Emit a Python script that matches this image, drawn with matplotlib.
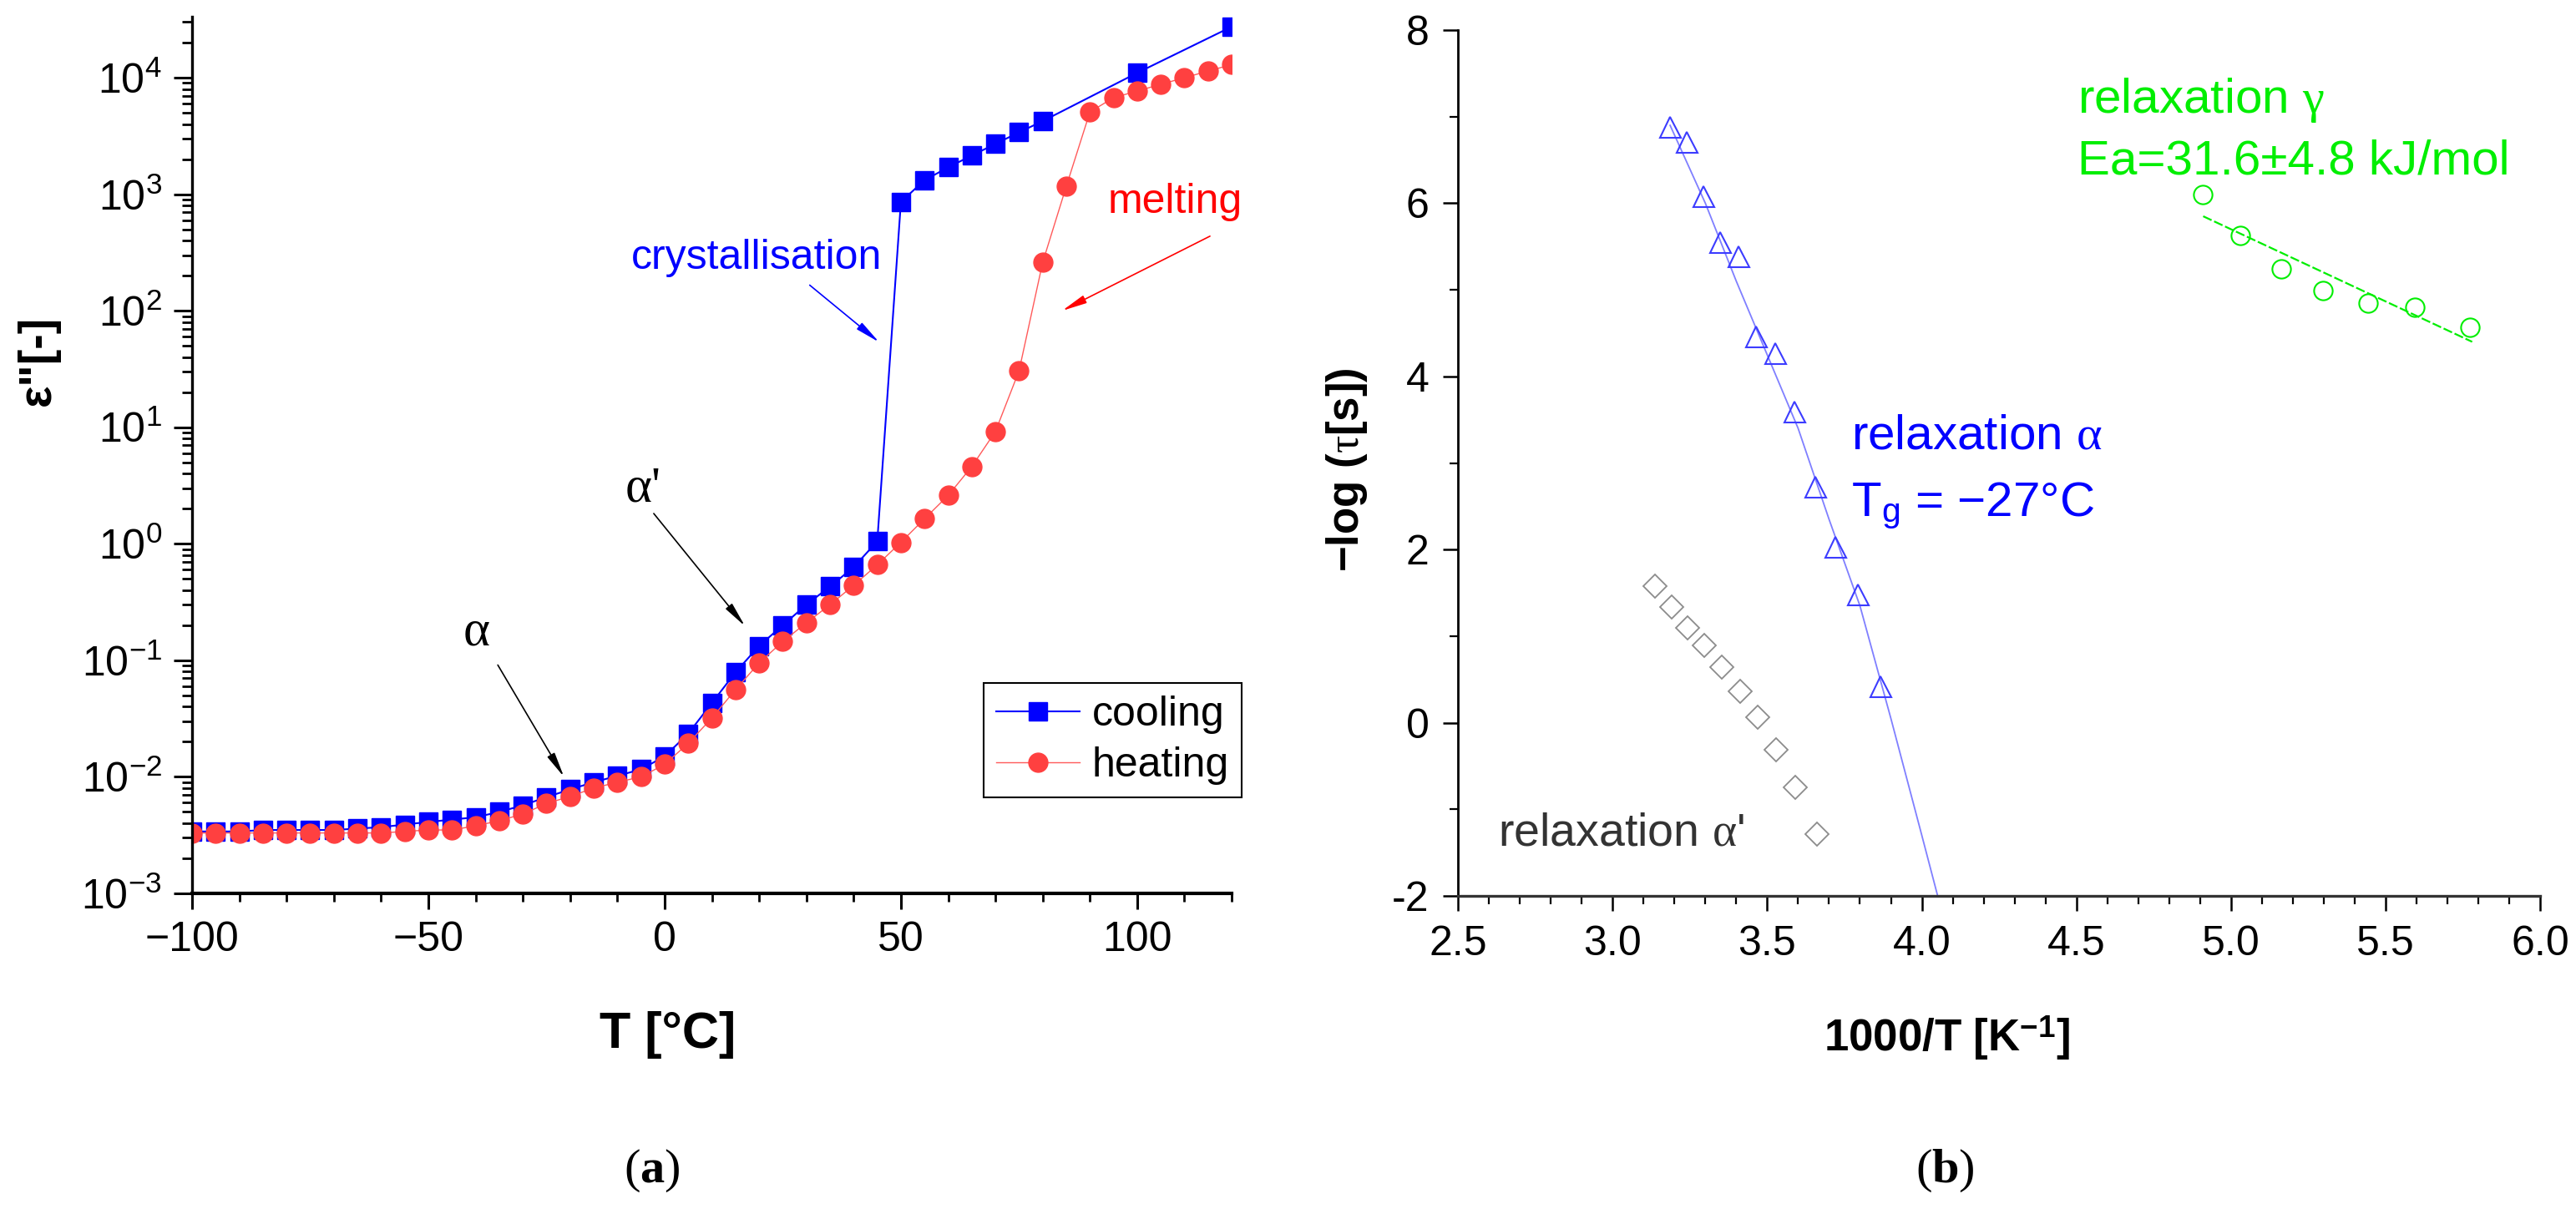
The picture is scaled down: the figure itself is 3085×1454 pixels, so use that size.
import matplotlib
matplotlib.use('Agg')
import matplotlib.pyplot as plt
from matplotlib.ticker import LogLocator, MultipleLocator, FuncFormatter, NullFormatter

plt.rcParams['font.family'] = 'Liberation Sans'
plt.rcParams['mathtext.fontset'] = 'custom'
plt.rcParams['mathtext.rm'] = 'Liberation Serif'
plt.rcParams['mathtext.it'] = 'Liberation Serif:italic'
plt.rcParams['mathtext.bf'] = 'Liberation Serif:bold'
plt.rcParams['mathtext.default'] = 'rm'

# (a) dielectric loss vs temperature
T_cool = [-100, -95, -90, -85, -80, -75, -70, -65, -60, -55, -50, -45, -40, -35, -30,
          -25, -20, -15, -10, -5, 0, 5, 10, 15, 20, 25, 30, 35, 40, 45,
          50, 55, 60, 65, 70, 75, 80, 100, 120]
eps_cool = [0.0034, 0.0034, 0.0034, 0.0035, 0.0035, 0.0035, 0.0035, 0.0036, 0.0037, 0.0039,
            0.0041, 0.0043, 0.0045, 0.0050, 0.0057, 0.0067, 0.0078, 0.0090, 0.0102, 0.0116,
            0.0150, 0.0235, 0.043, 0.079, 0.133, 0.20, 0.30, 0.43, 0.63, 1.05,
            860, 1320, 1700, 2150, 2700, 3400, 4240, 11000, 27400]

T_heat = [-100, -95, -90, -85, -80, -75, -70, -65, -60, -55, -50, -45, -40, -35, -30,
          -25, -20, -15, -10, -5, 0, 5, 10, 15, 20, 25, 30, 35, 40, 45,
          50, 55, 60, 65, 70, 75, 80, 85, 90, 95, 100, 105, 110, 115, 120]
eps_heat = [0.0033, 0.0033, 0.0033, 0.0033, 0.0033, 0.0033, 0.0033, 0.0033, 0.0033, 0.0034,
            0.0035, 0.0035, 0.0038, 0.0042, 0.0048, 0.0059, 0.0068, 0.0080, 0.0090, 0.0100,
            0.0128, 0.0194, 0.032, 0.056, 0.095, 0.145, 0.21, 0.30, 0.44, 0.66,
            1.03, 1.64, 2.6, 4.6, 9.2, 30.5, 260, 1170, 5080, 6740, 7680, 8780, 10000, 11400, 12950]

# (b) relaxation map
x_alpha = [3.186, 3.240, 3.294, 3.348, 3.407, 3.464, 3.526, 3.588, 3.656, 3.720, 3.794, 3.866]
y_alpha = [6.88, 6.71, 6.08, 5.55, 5.39, 4.46, 4.27, 3.59, 2.73, 2.03, 1.48, 0.42]
alpha_fit_x = [3.186, 3.30, 3.40, 3.50, 3.60, 3.70, 3.80, 3.90, 4.00, 4.055]
alpha_fit_y = [6.90, 6.00, 5.10, 4.25, 3.40, 2.35, 1.35, 0.05, -1.30, -2.05]

x_alpha_p = [3.138, 3.190, 3.243, 3.296, 3.354, 3.412, 3.470, 3.528, 3.591, 3.660]
y_alpha_p = [1.58, 1.335, 1.10, 0.89, 0.645, 0.36, 0.06, -0.31, -0.75, -1.29]

x_gamma = [4.909, 5.030, 5.163, 5.298, 5.444, 5.595, 5.774]
y_gamma = [6.10, 5.63, 5.24, 4.99, 4.85, 4.80, 4.57]
gamma_fit_x = [4.91, 5.78]
gamma_fit_y = [5.85, 4.40]

blue = '#0000ff'
red = '#ff4040'
green = '#00ee00'

fig = plt.figure(figsize=(30.85, 14.54), dpi=100)

# ---------------- panel (a) ----------------
ax1 = fig.add_axes([0.07455, 0.2641, 0.4036, 0.7221])
ax1.set_yscale('log')
ax1.plot(T_cool, eps_cool, '-s', color=blue, lw=1.5, ms=15.5, label='cooling')
ax1.plot(T_heat, eps_heat, '-o', color='#ff5a5a', mfc=red, mec=red, lw=1.0, ms=16.5, label='heating')
ax1.set_xlim(-100, 120)
ax1.set_ylim(1e-3, 10 ** 4.523)

for s in ['top', 'right']:
    ax1.spines[s].set_visible(False)
ax1.spines['left'].set_linewidth(2.4)
ax1.spines['bottom'].set_linewidth(3.0)

ax1.xaxis.set_major_locator(MultipleLocator(50))
ax1.xaxis.set_minor_locator(MultipleLocator(10))
ax1.yaxis.set_major_locator(LogLocator(base=10, numticks=20))
ax1.yaxis.set_minor_locator(LogLocator(base=10, subs=range(2, 10), numticks=20))
ax1.yaxis.set_minor_formatter(NullFormatter())
ax1.tick_params(axis='both', which='major', direction='out', labelsize=36, width=2.2)
ax1.tick_params(axis='x', which='major', length=14, pad=10)
ax1.tick_params(axis='x', which='minor', length=7, width=2.0)
ax1.tick_params(axis='y', which='major', length=16, pad=10)
ax1.tick_params(axis='y', which='minor', length=8.5, width=2.0)

leg = ax1.legend(loc='upper right', bbox_to_anchor=(1487 / 3085, 1 - 818 / 1454),
                 bbox_transform=fig.transFigure, fontsize=36, frameon=True, fancybox=False,
                 edgecolor='black', framealpha=1, handlelength=2.0, handletextpad=0.3,
                 labelspacing=0.3, borderpad=0.3, borderaxespad=0)
leg.get_frame().set_linewidth(1.5)

arrow = '-|>,head_length=0.9,head_width=0.15'
ax1.text(46, 10 ** 2.45, 'crystallisation', color=blue, fontsize=36, ha='right', va='center')
ax1.annotate('', xy=(45.4, 10 ** 1.73), xytext=(30.7, 10 ** 2.22),
             arrowprops=dict(arrowstyle=arrow, color=blue, lw=1.2, shrinkA=0, shrinkB=0,
                             mutation_scale=20))
ax1.text(93.8, 10 ** 2.93, 'melting', color='#ff0000', fontsize=36, ha='left', va='center',
         clip_on=False)
ax1.annotate('', xy=(84.1, 10 ** 2.0), xytext=(115.4, 10 ** 2.64),
             arrowprops=dict(arrowstyle=arrow, color='#ff0000', lw=1.2, shrinkA=0, shrinkB=0,
                             mutation_scale=20))
ax1.text(-4.6, 10 ** 0.47, "α'", fontsize=44, family='Liberation Serif', ha='center', va='center')
ax1.annotate('', xy=(17.0, 10 ** -0.706), xytext=(-2.3, 10 ** 0.26),
             arrowprops=dict(arrowstyle=arrow, color='black', lw=1.2, shrinkA=0, shrinkB=0,
                             mutation_scale=20))
ax1.text(-39.9, 10 ** -0.764, 'α', fontsize=44, family='Liberation Serif', ha='center', va='center')
ax1.annotate('', xy=(-21.3, 10 ** -2.0), xytext=(-35.3, 10 ** -1.04),
             arrowprops=dict(arrowstyle=arrow, color='black', lw=1.2, shrinkA=0, shrinkB=0,
                             mutation_scale=20))

# ---------------- panel (b) ----------------
ax2 = fig.add_axes([0.5660, 0.2620, 0.4201, 0.7132])
ax2.plot(alpha_fit_x, alpha_fit_y, color='#7f7fff', lw=1.3)
ax2.plot(x_alpha, y_alpha, ls='none', marker='^', ms=18, mfc='none', mec='#3c3cff', mew=1.5)
ax2.plot(x_alpha_p, y_alpha_p, ls='none', marker='D', ms=14.5, mfc='none', mec='#8c8c8c', mew=1.3)
ax2.plot(gamma_fit_x, gamma_fit_y, color=green, lw=1.6, dashes=(5, 1.5))
ax2.plot(x_gamma, y_gamma, ls='none', marker='o', ms=16, mfc='none', mec=green, mew=1.5)
ax2.set_xlim(2.5, 6.0)
ax2.set_ylim(-2, 8)

for s in ['top', 'right']:
    ax2.spines[s].set_visible(False)
ax2.spines['left'].set_linewidth(2.0)
ax2.spines['bottom'].set_linewidth(2.4)
ax2.spines['bottom'].set_color('#333333')

ax2.xaxis.set_major_locator(MultipleLocator(0.5))
ax2.xaxis.set_minor_locator(MultipleLocator(0.1))
ax2.yaxis.set_major_locator(MultipleLocator(2))
ax2.yaxis.set_minor_locator(MultipleLocator(1))
ax2.xaxis.set_major_formatter(FuncFormatter(lambda v, p: f'{v:.1f}'))
ax2.yaxis.set_major_formatter(FuncFormatter(lambda v, p: f'{v:g}'))
ax2.tick_params(axis='both', which='major', direction='out', labelsize=36, width=1.8, length=13, pad=12)
ax2.tick_params(axis='both', which='minor', direction='out', width=1.6, length=7)

ax2.text(4.504, 7.045, r'relaxation $\gamma$', color=green, fontsize=42, ha='left', va='baseline')
ax2.text(4.504, 6.34, 'Ea=31.6±4.8 kJ/mol', color=green, fontsize=42, ha='left', va='baseline')
ax2.text(3.772, 3.16, r'relaxation $\alpha$', color=blue, fontsize=42, ha='left', va='baseline')
ax2.text(3.772, 2.39, r'T$_{\mathregular{g}}$ = −27°C', color=blue, fontsize=42, ha='left', va='baseline')
ax2.text(2.630, -1.42, r"relaxation $\alpha$'", color='#333333', fontsize=40, ha='left', va='baseline')

# ---------------- labels ----------------
fig.text(46 / 3085, 1 - 432 / 1454, 'ε"[-]', rotation=90, fontsize=40, fontweight='bold',
         ha='center', va='center')
fig.text(800 / 3085, 1 - 1240 / 1454, 'T [°C]', fontsize=44, fontweight='bold', ha='center', va='center')
fig.text(1613 / 3085, 1 - 563 / 1454, r'−log ($\tau$[s])', rotation=90, fontsize=38, fontweight='bold',
         ha='center', va='center')
fig.text(2331 / 3085, 1 - 1243 / 1454, r'1000/T [K$^{\mathregular{−1}}$]', fontsize=38,
         fontweight='bold', ha='center', va='center')
fig.text(781 / 3085, 1 - 1402 / 1454, r'($\mathbf{a}$)', fontsize=42, family='Liberation Serif',
         ha='center', va='center')
fig.text(2329 / 3085, 1 - 1402 / 1454, r'($\mathbf{b}$)', fontsize=42, family='Liberation Serif',
         ha='center', va='center')

fig.savefig('out.png', dpi=100)
